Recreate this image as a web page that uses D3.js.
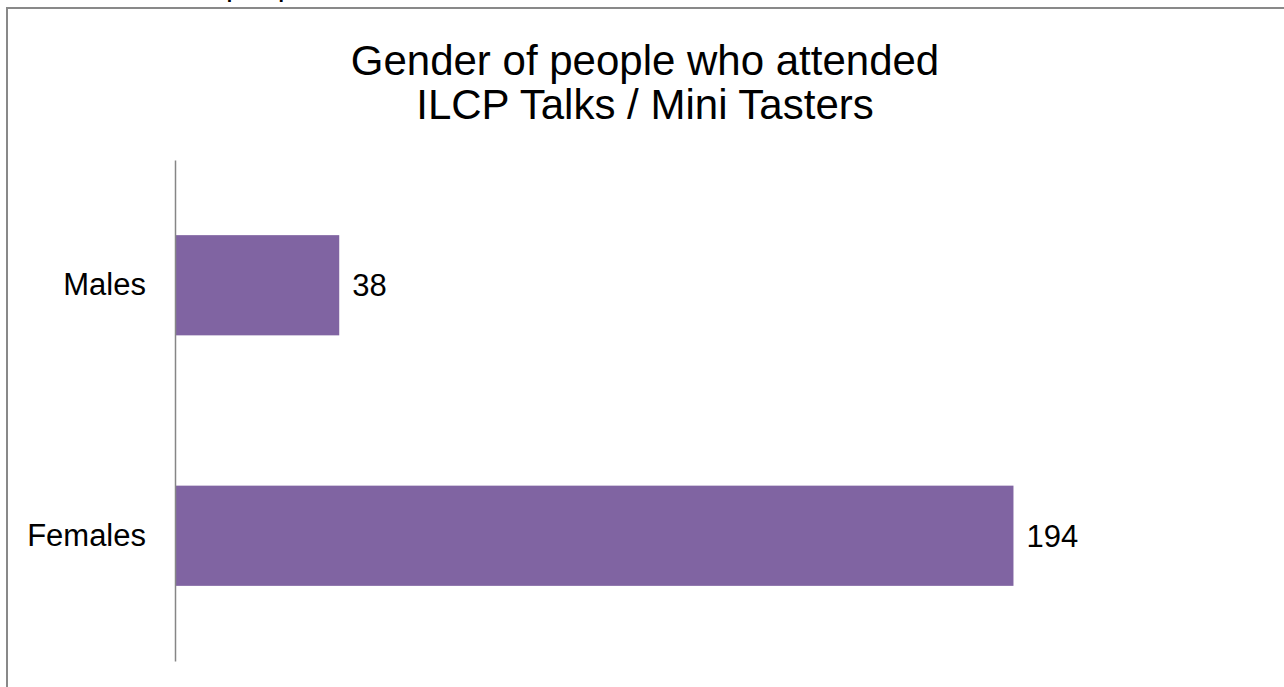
<!DOCTYPE html>
<html>
<head>
<meta charset="utf-8">
<script src="https://cdn.jsdelivr.net/npm/d3@7"></script>
<style>
  body { margin: 0; background: #fff; }
  text { font-family: "Liberation Sans", Arial, sans-serif; fill: #000; }
</style>
</head>
<body>
<script>
// chart data
const categories = ['Males', 'Females'];
const values = [38, 194];
const titleLines = ['Gender of people who attended', 'ILCP Talks / Mini Tasters'];
const clippedText = 'people';

const W = 1284, H = 687;
const margin = {top: 160, right: 28, bottom: 26, left: 175};

const svg = d3.select('body').append('svg')
  .attr('width', W)
  .attr('height', H);

// frame of the chart area (runs off the right and bottom edges)
svg.append('rect')
  .attr('x', 7).attr('y', 8)
  .attr('width', W + 20).attr('height', H + 20)
  .attr('fill', 'none')
  .attr('stroke', '#898989')
  .attr('stroke-width', 2);

// leftover text above the frame, only descenders show
svg.append('text')
  .attr('x', 226).attr('y', -5.5)
  .attr('font-size', 31)
  .text(clippedText);

// title
svg.append('g').selectAll('text')
  .data(titleLines)
  .enter().append('text')
  .attr('x', 645)
  .attr('y', (d, i) => 75 + i * 44)
  .attr('text-anchor', 'middle')
  .attr('font-size', 42)
  .text(d => d);

const x = d3.scaleLinear()
  .domain([0, 250])
  .range([margin.left, margin.left + 250 * 4.322]);

const y = d3.scaleBand()
  .domain(categories)
  .range([margin.top, H - margin.bottom])
  .paddingInner(0.6)
  .paddingOuter(0.3);

const g = svg.append('g');

g.selectAll('rect.bar')
  .data(categories)
  .enter().append('rect')
  .attr('class', 'bar')
  .attr('x', x(0))
  .attr('y', d => y(d))
  .attr('width', (d, i) => x(values[i]) - x(0))
  .attr('height', y.bandwidth())
  .attr('fill', '#8064a2');

// value labels
g.selectAll('text.val')
  .data(categories)
  .enter().append('text')
  .attr('class', 'val')
  .attr('x', (d, i) => x(values[i]) + 13)
  .attr('y', d => y(d) + y.bandwidth() / 2)
  .attr('dy', '0.35em')
  .attr('font-size', 31)
  .text((d, i) => values[i]);

// category axis
const yAxis = d3.axisLeft(y).tickSize(0).tickPadding(29);
const ax = svg.append('g')
  .attr('transform', `translate(${margin.left},0)`)
  .call(yAxis);
ax.select('.domain')
  .attr('stroke', '#868686')
  .attr('stroke-width', 1.5);
ax.selectAll('text')
  .attr('font-size', 31)
  .attr('font-family', '"Liberation Sans", Arial, sans-serif')
  .attr('fill', '#000');
</script>
</body>
</html>
